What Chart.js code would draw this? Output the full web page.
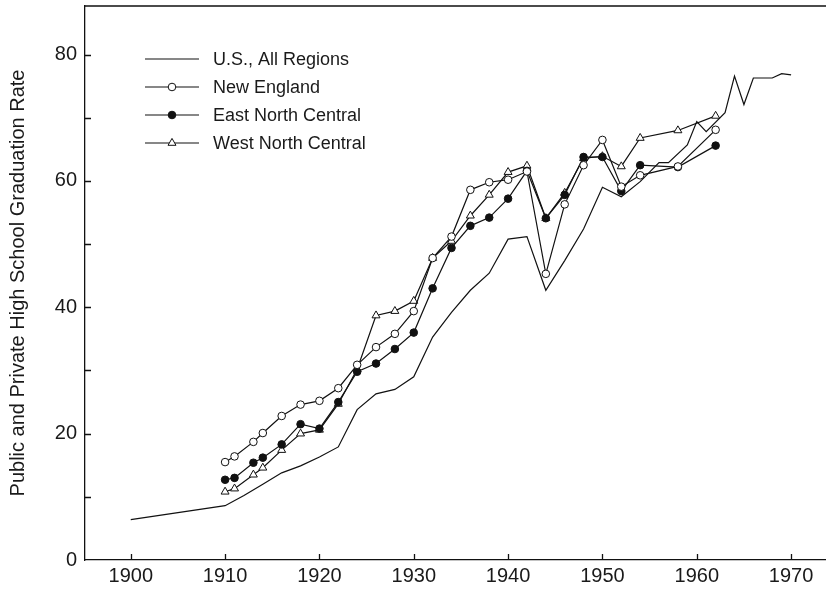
<!DOCTYPE html>
<html>
<head>
<meta charset="utf-8">
<script src="https://cdn.jsdelivr.net/npm/chart.js@4.4.1/dist/chart.umd.min.js"></script>
<style>
  html, body { margin: 0; padding: 0; background: #fff; overflow: hidden; }
  #wrap { width: 826px; height: 589px; }
</style>
</head>
<body>
<div id="wrap"><canvas id="c" width="826" height="589"></canvas></div>
<script>
// U.S. total: graduation rate by year
const usYears = [1900, 1910, 1912, 1914, 1916, 1918, 1920, 1922, 1924, 1926, 1928, 1930,
  1932, 1934, 1936, 1938, 1940, 1942, 1944, 1946, 1948, 1950, 1952, 1954, 1956, 1957,
  1959, 1960, 1961, 1963, 1964, 1965, 1966, 1968, 1969, 1970];
const usRates = [6.4, 8.6, 10.2, 12.0, 13.8, 14.9, 16.3, 17.9, 23.8, 26.3, 27.0, 29.0,
  35.3, 39.2, 42.7, 45.4, 50.8, 51.2, 42.7, 47.4, 52.4, 59.0, 57.5, 59.9, 62.9, 62.9,
  65.7, 69.4, 67.8, 70.8, 76.6, 72.1, 76.3, 76.3, 77.0, 76.8];

// Regional series share one set of years
const regionYears = [1910, 1911, 1913, 1914, 1916, 1918, 1920, 1922, 1924, 1926, 1928, 1930,
  1932, 1934, 1936, 1938, 1940, 1942, 1944, 1946, 1948, 1950, 1952, 1954, 1958, 1962];
const newEngland = [15.5, 16.4, 18.7, 20.1, 22.8, 24.6, 25.2, 27.2, 30.9, 33.7, 35.8, 39.4,
  47.8, 51.2, 58.6, 59.8, 60.2, 61.5, 45.3, 56.3, 62.5, 66.5, 59.1, 60.9, 62.3, 68.1];
const eastNorthCentral = [12.7, 13.0, 15.4, 16.2, 18.3, 21.5, 20.8, 25.0, 29.8, 31.1, 33.4, 36.0,
  43.0, 49.4, 52.9, 54.2, 57.2, 61.6, 54.1, 57.8, 63.8, 63.8, 58.4, 62.5, 62.2, 65.6];
const westNorthCentral = [10.8, 11.3, 13.5, 14.6, 17.4, 20.0, 20.6, 24.7, 30.2, 38.7, 39.4, 41.0,
  47.8, 50.5, 54.5, 57.8, 61.4, 62.4, 54.1, 58.1, 63.6, 63.9, 62.3, 66.8, 68.0, 70.3];

const seriesNames = ['U.S., All Regions', 'New England', 'East North Central', 'West North Central'];
const xTicks = [1900, 1910, 1920, 1930, 1940, 1950, 1960, 1970];
const yTicks = [0, 10, 20, 30, 40, 50, 60, 70, 80];
const yLabelStep = 20;
const yTitle = 'Public and Private High School Graduation Rate';

const FONT = '"Liberation Sans", Arial, Helvetica, sans-serif';
const INK = '#111';

const pairs = (xs, ys) => xs.map((x, i) => ({ x: x, y: ys[i] }));

const base = {
  borderColor: INK,
  borderWidth: 1.2,
  tension: 0,
  pointBorderColor: INK,
  pointBorderWidth: 1,
  fill: false
};

const datasets = [
  Object.assign({}, base, { label: seriesNames[0], data: pairs(usYears, usRates), pointRadius: 0 }),
  Object.assign({}, base, { label: seriesNames[1], data: pairs(regionYears, newEngland),
    pointStyle: 'circle', pointRadius: 3.8, pointBackgroundColor: '#fff' }),
  Object.assign({}, base, { label: seriesNames[2], data: pairs(regionYears, eastNorthCentral),
    pointStyle: 'circle', pointRadius: 3.8, pointBackgroundColor: INK }),
  Object.assign({}, base, { label: seriesNames[3], data: pairs(regionYears, westNorthCentral),
    pointStyle: 'triangle', pointRadius: 4.6, pointBackgroundColor: '#fff' })
];

// Inward tick marks, top frame line and the in-plot key
const framePlugin = {
  id: 'frame',
  afterDraw(chart) {
    const { ctx, chartArea: a, scales } = chart;
    ctx.save();
    ctx.strokeStyle = INK;
    ctx.lineWidth = 1.3;
    ctx.beginPath();
    ctx.moveTo(a.left, a.top);
    ctx.lineTo(a.right, a.top);
    xTicks.forEach(v => {
      const px = Math.round(scales.x.getPixelForValue(v)) + 0.5;
      ctx.moveTo(px, a.bottom);
      ctx.lineTo(px, a.bottom - 6);
    });
    yTicks.forEach(v => {
      if (v === 0) return;
      const py = Math.round(scales.y.getPixelForValue(v)) + 0.5;
      ctx.moveTo(a.left, py);
      ctx.lineTo(a.left + 6, py);
    });
    ctx.stroke();

    // key
    const rows = [59, 87, 115, 143];
    const x0 = 145, x1 = 199, tx = 213;
    ctx.font = '18px ' + FONT;
    ctx.textBaseline = 'middle';
    ctx.textAlign = 'left';
    chart.data.datasets.forEach((ds, i) => {
      const y = rows[i];
      ctx.strokeStyle = INK;
      ctx.lineWidth = ds.borderWidth;
      ctx.beginPath();
      ctx.moveTo(x0, y);
      ctx.lineTo(x1, y);
      ctx.stroke();
      if (ds.pointRadius > 0) {
        ctx.lineWidth = ds.pointBorderWidth;
        ctx.fillStyle = ds.pointBackgroundColor;
        Chart.helpers.drawPoint(ctx, {
          pointStyle: ds.pointStyle, radius: ds.pointRadius, rotation: 0, borderWidth: ds.pointBorderWidth
        }, (x0 + x1) / 2, y);
      }
      ctx.fillStyle = '#1a1a1a';
      ctx.fillText(ds.label, tx, y + 1);
    });
    ctx.restore();
  }
};

new Chart(document.getElementById('c').getContext('2d'), {
  type: 'line',
  data: { datasets: datasets },
  plugins: [framePlugin],
  options: {
    responsive: false,
    animation: false,
    layout: { autoPadding: false, padding: { top: 6, right: 0, left: 0, bottom: 0 } },
    plugins: { legend: { display: false }, tooltip: { enabled: false } },
    scales: {
      x: {
        type: 'linear',
        min: 1895.15,
        max: 1973.7,
        afterBuildTicks: s => { s.ticks = xTicks.map(v => ({ value: v })); },
        afterFit: s => { s.height = 29; s.paddingLeft = 0; s.paddingRight = 0; },
        grid: { display: false, drawTicks: false },
        border: { display: true, color: INK, width: 1.3 },
        ticks: { font: { family: FONT, size: 20 }, color: '#1a1a1a', padding: 4, maxRotation: 0,
          callback: v => String(v) }
      },
      y: {
        type: 'linear',
        min: 0,
        max: 87.7,
        afterBuildTicks: s => { s.ticks = yTicks.map(v => ({ value: v })); },
        afterFit: s => { s.width = 85; s.paddingTop = 0; s.paddingBottom = 0; },
        grid: { display: false, drawTicks: false },
        border: { display: true, color: INK, width: 1.3 },
        ticks: { font: { family: FONT, size: 20 }, color: '#1a1a1a', padding: 8,
          callback: v => (v % yLabelStep === 0 ? String(v) : '') },
        title: { display: true, text: yTitle, color: '#1a1a1a',
          font: { family: FONT, size: 20 }, padding: { top: 6, bottom: 0 } }
      }
    }
  }
});
</script>
</body>
</html>
